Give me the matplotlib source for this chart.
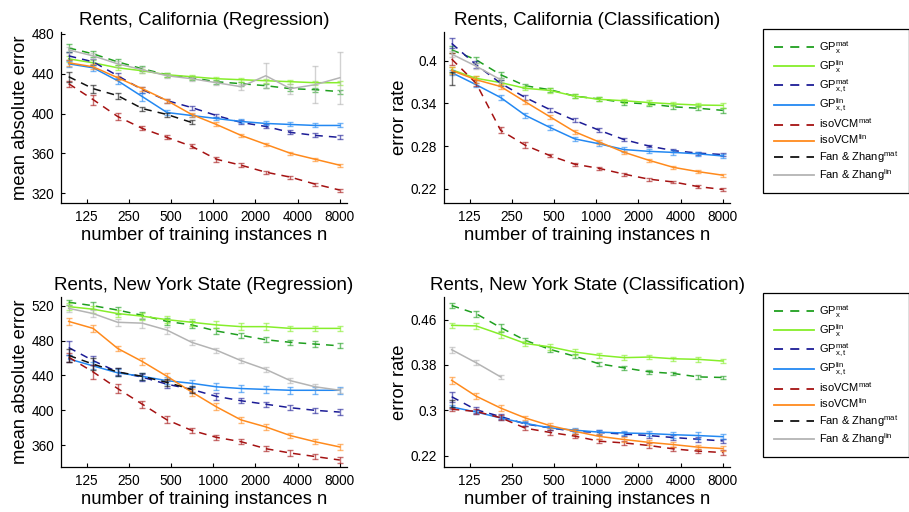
import numpy as np
import matplotlib
matplotlib.use("Agg")
import matplotlib.pyplot as plt
from matplotlib.lines import Line2D

plt.rcParams['font.family'] = ['Liberation Sans', 'DejaVu Sans']
plt.rcParams['mathtext.fontset'] = 'custom'
plt.rcParams['mathtext.rm'] = 'Liberation Sans'
plt.rcParams['mathtext.it'] = 'Liberation Sans:italic'

# training set sizes (log axis)
n = [93, 139, 208, 312, 468, 702, 1053, 1580, 2370, 3556, 5333, 8000]

# --- Rents, California (Regression): mean absolute error
ca_reg = {
    'gpx_mat':  [466, 460, 452, 445, 439, 436, 432, 430, 428, 425, 424, 422],
    'gpx_lin':  [455, 451, 446, 443, 439, 437, 435, 434, 433, 432, 431, 431],
    'gpxt_mat': [458, 452, 438, 424, 413, 406, 398, 391, 387, 381, 378, 376],
    'gpxt_lin': [450, 446, 433, 417, 401, 398, 395, 392, 390, 389, 388, 388],
    'iso_mat':  [430, 414, 397, 385, 376, 367, 354, 348, 341, 336, 329, 323],
    'iso_lin':  [451, 447, 436, 425, 413, 399, 389, 378, 369, 360, 354, 348],
    'fz_mat':   [437, 425, 418, 405, 399, 391],
    'fz_lin':   [464, 458, 450, 444, 438, 435, 431, 427, 438, 425, 429, 436],
}
ca_reg_err = {
    'gpx_mat':  [4, 3, 3, 2.5, 2, 2, 2, 2, 2, 2, 2, 2],
    'gpx_lin':  [3, 2.5, 2.5, 2, 2, 2, 2, 2, 2, 2, 2, 2],
    'gpxt_mat': [4, 3, 3, 3, 2, 2, 2, 2, 2, 2, 2, 2],
    'gpxt_lin': [3, 3, 3, 4, 2.5, 2, 2, 2, 2, 2, 2, 2],
    'iso_mat':  [3, 5, 4, 2, 2, 2, 2.5, 2, 1.5, 1.5, 1.5, 1.5],
    'iso_lin':  [3, 2.5, 2, 2, 2, 2, 2, 1.5, 1.5, 1.5, 1.5, 1.5],
    'fz_mat':   [5, 4, 3, 2, 2, 2],
    'fz_lin':   [3, 3, 3, 3, 2, 2, 2, 3, 12.5, 5, 18.5, 26],
}

# --- Rents, California (Classification): error rate
ca_cls = {
    'gpx_mat':  [0.415, 0.401, 0.380, 0.3645, 0.359, 0.350, 0.346, 0.341, 0.339, 0.335, 0.333, 0.330],
    'gpx_lin':  [0.387, 0.375, 0.369, 0.361, 0.358, 0.350, 0.3455, 0.3435, 0.341, 0.339, 0.3375, 0.337],
    'gpxt_mat': [0.424, 0.394, 0.368, 0.348, 0.331, 0.316, 0.302, 0.289, 0.280, 0.2735, 0.270, 0.268],
    'gpxt_lin': [0.383, 0.366, 0.348, 0.323, 0.306, 0.290, 0.283, 0.275, 0.2725, 0.271, 0.269, 0.266],
    'iso_mat':  [0.402, 0.368, 0.302, 0.281, 0.2665, 0.2545, 0.2485, 0.2405, 0.2335, 0.2295, 0.2230, 0.219],
    'iso_lin':  [0.386, 0.373, 0.3635, 0.342, 0.321, 0.300, 0.2855, 0.2712, 0.260, 0.250, 0.244, 0.239],
    'fz_mat':   [0.375],
    'fz_lin':   [0.409, 0.392, 0.373],
}
ca_cls_err = {
    'gpx_mat':  [0.005, 0.004, 0.004, 0.003, 0.003, 0.003, 0.003, 0.003, 0.003, 0.003, 0.003, 0.003],
    'gpx_lin':  [0.004, 0.003, 0.003, 0.003, 0.003, 0.003, 0.003, 0.003, 0.003, 0.003, 0.003, 0.003],
    'gpxt_mat': [0.007, 0.005, 0.004, 0.003, 0.003, 0.003, 0.003, 0.002, 0.002, 0.002, 0.002, 0.002],
    'gpxt_lin': [0.004, 0.003, 0.004, 0.004, 0.003, 0.003, 0.003, 0.003, 0.003, 0.003, 0.003, 0.003],
    'iso_mat':  [0.008, 0.004, 0.004, 0.004, 0.002, 0.002, 0.002, 0.002, 0.002, 0.002, 0.002, 0.002],
    'iso_lin':  [0.005, 0.005, 0.003, 0.003, 0.003, 0.003, 0.003, 0.002, 0.002, 0.002, 0.002, 0.002],
    'fz_mat':   [0.009],
    'fz_lin':   [0.004, 0.004, 0.003],
}

# --- Rents, New York State (Regression): mean absolute error
ny_reg = {
    'gpx_mat':  [524, 520, 515, 509, 502, 498, 491, 486, 481, 478, 476, 474],
    'gpx_lin':  [519, 516, 511, 508, 504, 501, 498, 496, 496, 494, 494, 494],
    'gpxt_mat': [472, 457, 444, 438, 430, 424, 416, 411, 407, 403, 400, 398],
    'gpxt_lin': [459, 451, 443, 439, 434, 431, 427, 425, 424, 423, 423, 423],
    'iso_mat':  [461, 444, 425, 407, 389, 377, 369, 364, 356, 351, 347, 343],
    'iso_lin':  [502, 494, 471, 456, 439, 421, 404, 389, 381, 371, 364, 358],
    'fz_mat':   [463, 453, 444, 439, 432, 424],
    'fz_lin':   [517, 511, 501, 500, 492, 478, 469, 457, 447, 434, 427, 423],
}
ny_reg_err = {
    'gpx_mat':  [3, 4, 4, 4, 4, 4, 4, 3, 3, 3, 3, 3],
    'gpx_lin':  [4, 4, 4, 4, 4, 4, 4, 4, 4, 3, 3, 3],
    'gpxt_mat': [8, 5, 4, 4, 4, 3, 4, 3, 3, 3, 3, 3],
    'gpxt_lin': [4, 4, 4, 4, 4, 4, 4, 4, 4, 4, 4, 4],
    'iso_mat':  [5, 8, 5, 4, 4, 3, 3, 3, 3, 3, 3, 3],
    'iso_lin':  [4, 4, 3, 4, 4, 4, 4, 3, 3, 3, 3, 3],
    'fz_mat':   [7, 7, 5, 4, 4, 4],
    'fz_lin':   [4, 4, 4, 6, 4, 3, 3, 3, 3, 3, 3, 3],
}

# --- Rents, New York State (Classification): error rate
ny_cls = {
    'gpx_mat':  [0.485, 0.4705, 0.446, 0.4235, 0.4075, 0.3955, 0.382, 0.375, 0.368, 0.365, 0.359, 0.358],
    'gpx_lin':  [0.450, 0.449, 0.434, 0.418, 0.412, 0.403, 0.397, 0.393, 0.394, 0.391, 0.390, 0.387],
    'gpxt_mat': [0.324, 0.301, 0.289, 0.276, 0.269, 0.263, 0.261, 0.258, 0.2555, 0.252, 0.249, 0.246],
    'gpxt_lin': [0.306, 0.297, 0.2865, 0.277, 0.269, 0.265, 0.2615, 0.260, 0.259, 0.257, 0.2555, 0.2535],
    'iso_mat':  [0.302, 0.298, 0.287, 0.2685, 0.261, 0.2545, 0.2455, 0.2425, 0.238, 0.232, 0.228, 0.2255],
    'iso_lin':  [0.353, 0.325, 0.304, 0.2865, 0.273, 0.263, 0.254, 0.2485, 0.2435, 0.2395, 0.235, 0.2325],
    'fz_mat':   [0.312],
    'fz_lin':   [0.407, 0.384, 0.359],
}
ny_cls_err = {
    'gpx_mat':  [0.004, 0.005, 0.007, 0.004, 0.004, 0.004, 0.004, 0.003, 0.003, 0.003, 0.003, 0.003],
    'gpx_lin':  [0.005, 0.006, 0.006, 0.005, 0.005, 0.005, 0.005, 0.004, 0.004, 0.004, 0.004, 0.004],
    'gpxt_mat': [0.009, 0.005, 0.005, 0.004, 0.004, 0.004, 0.004, 0.004, 0.004, 0.004, 0.004, 0.004],
    'gpxt_lin': [0.004, 0.004, 0.004, 0.004, 0.004, 0.004, 0.004, 0.004, 0.004, 0.005, 0.006, 0.004],
    'iso_mat':  [0.003, 0.004, 0.004, 0.004, 0.004, 0.004, 0.004, 0.004, 0.004, 0.004, 0.004, 0.004],
    'iso_lin':  [0.006, 0.005, 0.006, 0.004, 0.004, 0.004, 0.004, 0.004, 0.004, 0.004, 0.004, 0.004],
    'fz_mat':   [0.006],
    'fz_lin':   [0.005, 0.004, 0.003],
}

series = ['gpx_mat', 'gpx_lin', 'gpxt_mat', 'gpxt_lin', 'iso_mat', 'iso_lin', 'fz_mat', 'fz_lin']
labels = [r'GP$^{\rm mat}_{\rm x}$', r'GP$^{\rm lin}_{\rm x}$',
          r'GP$^{\rm mat}_{\rm x,t}$', r'GP$^{\rm lin}_{\rm x,t}$',
          r'isoVCM$^{\rm mat}$', r'isoVCM$^{\rm lin}$',
          r'Fan & Zhang$^{\rm mat}$', r'Fan & Zhang$^{\rm lin}$']
colors = ['#1f9f1f', '#86ee2a', '#1c1c96', '#2388f2', '#a51212', '#ff8a1c', '#111111', '#b4b4b4']
dashed = [True, False, True, False, True, False, True, False]

xticks = [125, 250, 500, 1000, 2000, 4000, 8000]

panels = [
    ('Rents, California (Regression)', 'mean absolute error', ca_reg, ca_reg_err,
     [320, 360, 400, 440, 480], ['320', '360', '400', '440', '480'], (310, 482)),
    ('Rents, California (Classification)', 'error rate', ca_cls, ca_cls_err,
     [0.22, 0.28, 0.34, 0.4], ['0.22', '0.28', '0.34', '0.4'], (0.2, 0.44)),
    ('Rents, New York State (Regression)', 'mean absolute error', ny_reg, ny_reg_err,
     [360, 400, 440, 480, 520], ['360', '400', '440', '480', '520'], (335, 530)),
    ('Rents, New York State (Classification)', 'error rate', ny_cls, ny_cls_err,
     [0.22, 0.3, 0.38, 0.46], ['0.22', '0.3', '0.38', '0.46'], (0.2, 0.5)),
]

W, H = 909, 512
fig = plt.figure(figsize=(W / 100, H / 100), dpi=100)
boxes = [(61, 32, 286, 171), (444, 32, 286, 171), (61, 297, 286, 170), (444, 297, 286, 170)]

for (title, ylab, data, err, yt, ytl, ylim), (x0, y0, w, h) in zip(panels, boxes):
    ax = fig.add_axes([x0 / W, 1 - (y0 + h) / H, w / W, h / H])
    for key, col, ds in zip(series, colors, dashed):
        y = data[key]
        xs = n[:len(y)]
        ax.errorbar(xs, y, yerr=err[key], fmt='none', ecolor=col, alpha=0.6,
                    elinewidth=1.0, capsize=2.5, capthick=1.0)
        if ds:
            ax.plot(xs, y, color=col, lw=1.1, dashes=(5, 4))
        else:
            ax.plot(xs, y, color=col, lw=1.1)
    ax.set_xscale('log')
    ax.set_xlim(82, 9000)
    ax.set_xticks(xticks)
    ax.set_xticklabels([str(t) for t in xticks])
    ax.minorticks_off()
    ax.set_ylim(*ylim)
    ax.set_yticks(yt)
    ax.set_yticklabels(ytl)
    for s in ['top', 'right']:
        ax.spines[s].set_visible(False)
    for s in ['left', 'bottom']:
        ax.spines[s].set_linewidth(0.9)
    ax.tick_params(direction='in', length=3, width=0.8, labelsize=9.8, pad=5)
    ax.set_title(title, fontsize=13.5, pad=5)
    ax.set_xlabel('number of training instances n', fontsize=13.2, labelpad=2)
    ax.set_ylabel(ylab, fontsize=13.2, labelpad=2)

handles = []
for col, ds in zip(colors, dashed):
    if ds:
        handles.append(Line2D([], [], color=col, lw=1.3, dashes=(5, 4)))
    else:
        handles.append(Line2D([], [], color=col, lw=1.3))

for top in (29, 293):
    leg = fig.legend(handles, labels, loc='upper left',
                     bbox_to_anchor=(763 / W, 1 - top / H), borderaxespad=0,
                     fontsize=8, handlelength=3.6, handletextpad=0.5,
                     borderpad=0.95, labelspacing=0.2, fancybox=False,
                     framealpha=1, edgecolor='black')
    leg.get_frame().set_linewidth(0.9)

fig.savefig('out.png', dpi=100)
